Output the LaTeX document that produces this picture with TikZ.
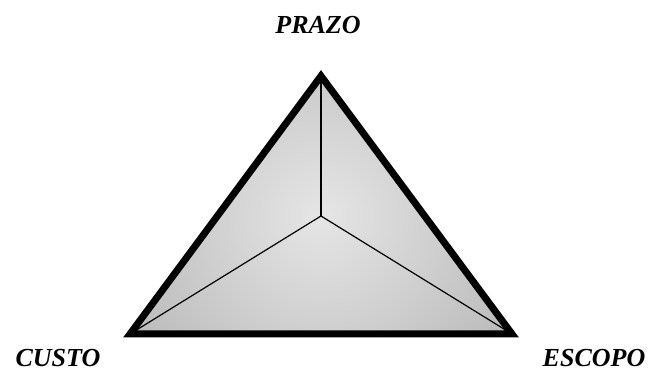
\documentclass[tikz,border=0pt]{standalone}
\usepackage{fontspec}
\setmainfont{Liberation Serif}
\usetikzlibrary{positioning, calc}
\tikzset{
    x=1pt, y=1pt,
    % Colors
    facetFill/.style={inner color=gray!20, outer color=gray!55},
    % Shapes
    edge/.style={line width=7pt, line join=miter, black},
    ridge/.style={line width=1.2pt, black},
    % Labels
    lbl/.style={font=\fontsize{26}{28}\selectfont\bfseries\itshape, inner sep=0pt, anchor=base}
}
\begin{document}
\begin{tikzpicture}
\useasboundingbox (0,0) rectangle (649,372);

\coordinate (top) at (321,296);
\coordinate (left) at (130,38);
\coordinate (right) at (512,38);
\coordinate (mid) at (321,156);

% facets
\begin{scope}
  \clip (top) -- (left) -- (right) -- cycle;
  \shade[facetFill] (mid) circle (230);
\end{scope}

\draw[ridge] (mid) -- (top);
\draw[ridge] (mid) -- (left);
\draw[ridge] (mid) -- (right);
\draw[edge] (top) -- (left) -- (right) -- cycle;

\node[lbl] (prazo) at (318,338) {PRAZO};
\node[lbl] (custo) at (58,5) {CUSTO};
\node[lbl] (escopo) at (594,5) {ESCOPO};

\end{tikzpicture}
\end{document}
